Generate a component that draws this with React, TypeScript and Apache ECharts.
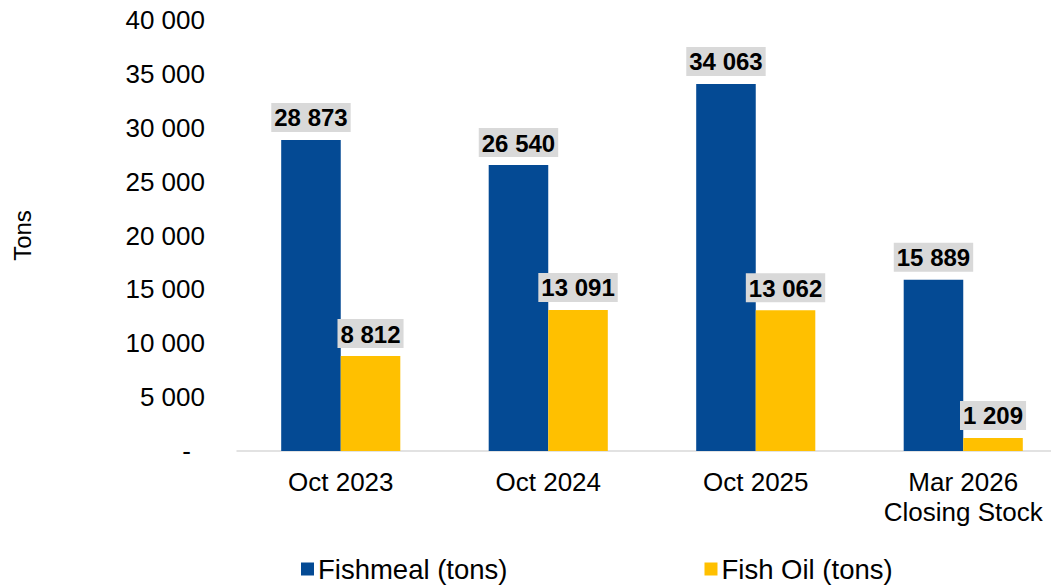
import React, { useEffect, useRef } from "react";
import * as echarts from "echarts";

const categories = ["Oct 2023", "Oct 2024", "Oct 2025", "Mar 2026\nClosing Stock"];
const fishmeal = [28873, 26540, 34063, 15889];
const fishOil = [8812, 13091, 13062, 1209];
const seriesNames = ["Fishmeal (tons)", "Fish Oil (tons)"];

const FONT = "Liberation Sans, Arial, sans-serif";

function fmt(v: number): string {
  if (v === 0) return "-";
  return String(Math.round(v)).replace(/\B(?=(\d{3})+(?!\d))/g, " ");
}

export default function App() {
  const ref = useRef<HTMLDivElement>(null);
  useEffect(() => {
    if (!ref.current) return;
    const chart = echarts.init(ref.current, undefined, { renderer: "svg" });
    const labelCfg = {
      show: true,
      position: "top" as const,
      distance: 8,
      formatter: (p: any) => fmt(p.value),
      fontFamily: FONT,
      fontSize: 24,
      fontWeight: "bold" as const,
      color: "#000",
      backgroundColor: "#D9D9D9",
      padding: [3, 3, 2, 3],
    };
    chart.setOption({
      animation: false,
      textStyle: { fontFamily: FONT },
      grid: { left: 237, width: 830, top: 20, bottom: 135, containLabel: false },
      legend: {
        top: 550,
        left: 296,
        itemWidth: 13,
        itemHeight: 13,
        itemGap: 197,
        icon: "rect",
        textStyle: { fontFamily: FONT, fontSize: 27.5, color: "#000", padding: [0, 0, 0, -1] },
        data: seriesNames,
      },
      xAxis: {
        type: "category",
        data: categories,
        axisLine: { lineStyle: { color: "#D9D9D9", width: 1.5 } },
        axisTick: { show: false },
        axisLabel: { interval: 0, fontFamily: FONT, fontSize: 26, color: "#000", margin: 16, lineHeight: 30 },
      },
      yAxis: {
        type: "value",
        min: 0,
        max: 40000,
        interval: 5000,
        name: "Tons",
        nameLocation: "middle",
        nameRotate: 90,
        nameGap: 203,
        nameTextStyle: { fontFamily: FONT, fontSize: 24, color: "#000" },
        axisLine: { show: false },
        axisTick: { show: false },
        splitLine: { show: false },
        axisLabel: {
          fontFamily: FONT,
          fontSize: 26,
          color: "#000",
          margin: 32,
          formatter: (v: number) => (v === 0 ? "{d|-}" : fmt(v)),
          rich: { d: { fontFamily: FONT, fontSize: 26, color: "#000", padding: [0, 14, 0, 0] } },
        },
      },
      series: [
        {
          name: seriesNames[0],
          type: "bar",
          data: fishmeal,
          barWidth: "28.7%",
          barGap: "0%",
          itemStyle: { color: "#044A94" },
          label: labelCfg,
        },
        {
          name: seriesNames[1],
          type: "bar",
          data: fishOil,
          barWidth: "28.7%",
          itemStyle: { color: "#FFC000" },
          label: labelCfg,
        },
      ],
    });
    return () => chart.dispose();
  }, []);
  return (
    <div
      ref={ref}
      style={{ position: "fixed", left: 0, top: 0, width: 1100, height: 586, background: "#fff" }}
    />
  );
}
